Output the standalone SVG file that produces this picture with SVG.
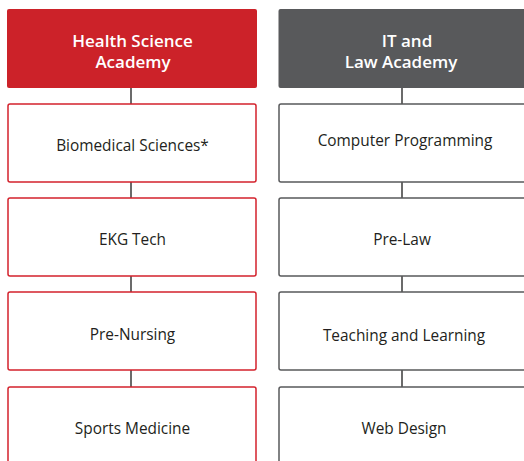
<svg xmlns="http://www.w3.org/2000/svg" width="524" height="461" viewBox="0 0 524 461">
<style>
.hdr-r{fill:#cc2229}
.hdr-g{fill:#58595b}
.box-r{fill:#fff;stroke:#d3222c;stroke-width:1.5}
.box-g{fill:#fff;stroke:#58595b;stroke-width:1.5}
.ht{font-family:"Open Sans",Lato,sans-serif;font-weight:600;font-size:17px;fill:#fff;text-anchor:middle}
.bt{font-family:"Open Sans",Lato,sans-serif;font-size:15.4px;fill:#231f20;text-anchor:middle}
.conn{stroke:#3a3a3a;stroke-width:1.5;fill:none}
</style>
<rect width="524" height="461" fill="#fff"/>
<g id="connectors">
<line class="conn" x1="131" y1="88" x2="131" y2="104"/>
<line class="conn" x1="131" y1="182" x2="131" y2="198"/>
<line class="conn" x1="131" y1="276" x2="131" y2="292"/>
<line class="conn" x1="131" y1="370" x2="131" y2="387"/>
<line class="conn" x1="402" y1="88" x2="402" y2="104"/>
<line class="conn" x1="402" y1="182" x2="402" y2="198"/>
<line class="conn" x1="402" y1="276" x2="402" y2="292"/>
<line class="conn" x1="402" y1="370" x2="402" y2="387"/>
</g>
<g id="health-header">
<rect class="hdr-r" x="7" y="9" width="250" height="79" rx="2"/>
<text class="ht" x="132.5" y="47">Health Science</text>
<text class="ht" x="133" y="68">Academy</text>
</g>
<g id="biomedical">
<rect class="box-r" x="8" y="104" width="248" height="78" rx="2"/>
<text class="bt" x="132.5" y="151">Biomedical Sciences*</text>
</g>
<g id="ekg">
<rect class="box-r" x="8" y="198" width="248" height="78" rx="2"/>
<text class="bt" x="132.5" y="245">EKG Tech</text>
</g>
<g id="prenursing">
<rect class="box-r" x="8" y="292" width="248" height="78" rx="2"/>
<text class="bt" x="132.5" y="340">Pre-Nursing</text>
</g>
<g id="sports">
<rect class="box-r" x="8" y="387" width="248" height="80" rx="2"/>
<text class="bt" x="132.5" y="434">Sports Medicine</text>
</g>
<g id="it-header">
<rect class="hdr-g" x="278.5" y="9" width="250" height="79" rx="2"/>
<text class="ht" x="407" y="47">IT and</text>
<text class="ht" x="401" y="68">Law Academy</text>
</g>
<g id="programming">
<rect class="box-g" x="279" y="104" width="248" height="78" rx="2"/>
<text class="bt" x="405" y="146">Computer Programming</text>
</g>
<g id="prelaw">
<rect class="box-g" x="279" y="198" width="248" height="78" rx="2"/>
<text class="bt" x="402" y="245">Pre-Law</text>
</g>
<g id="teaching">
<rect class="box-g" x="279" y="292" width="248" height="78" rx="2"/>
<text class="bt" x="404" y="341">Teaching and Learning</text>
</g>
<g id="webdesign">
<rect class="box-g" x="279" y="387" width="248" height="80" rx="2"/>
<text class="bt" x="404" y="434">Web Design</text>
</g>
</svg>
